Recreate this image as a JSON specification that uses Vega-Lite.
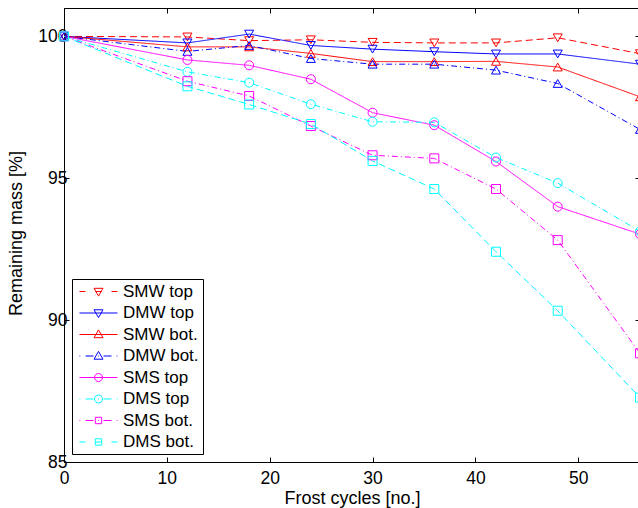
{
  "$schema": "https://vega.github.io/schema/vega-lite/v6.json",
  "autosize": {"type": "none"},
  "width": 576,
  "height": 454,
  "padding": {"left": 64, "top": 8, "right": -2, "bottom": 46},
  "background": "white",
  "config": {
    "view": {"stroke": "#000000", "strokeWidth": 1},
    "font": "Liberation Sans",
    "axis": {
      "labelFont": "Liberation Sans", "labelFontSize": 17.5, "labelColor": "#000000", "labelFlush": false,
      "titleFont": "Liberation Sans", "titleFontSize": 18, "titleColor": "#000000", "titleFontWeight": "normal",
      "domainColor": "#000000", "tickColor": "#000000", "grid": false, "tickSize": -5
    },
    "legend": {"labelFont": "Liberation Sans", "labelFontSize": 17, "labelColor": "#000000"}
  },
  "data": {"values": [
    {"series": "SMW top", "cycles": 0, "mass": 100}, {"series": "SMW top", "cycles": 12, "mass": 99.98}, {"series": "SMW top", "cycles": 18, "mass": 99.85}, {"series": "SMW top", "cycles": 24, "mass": 99.88}, {"series": "SMW top", "cycles": 30, "mass": 99.79}, {"series": "SMW top", "cycles": 36, "mass": 99.77}, {"series": "SMW top", "cycles": 42, "mass": 99.77}, {"series": "SMW top", "cycles": 48, "mass": 99.95}, {"series": "SMW top", "cycles": 56, "mass": 99.39},
    {"series": "DMW top", "cycles": 0, "mass": 100}, {"series": "DMW top", "cycles": 12, "mass": 99.77}, {"series": "DMW top", "cycles": 18, "mass": 100.08}, {"series": "DMW top", "cycles": 24, "mass": 99.68}, {"series": "DMW top", "cycles": 30, "mass": 99.55}, {"series": "DMW top", "cycles": 36, "mass": 99.46}, {"series": "DMW top", "cycles": 42, "mass": 99.38}, {"series": "DMW top", "cycles": 48, "mass": 99.38}, {"series": "DMW top", "cycles": 56, "mass": 99.02},
    {"series": "SMW bot.", "cycles": 0, "mass": 100}, {"series": "SMW bot.", "cycles": 12, "mass": 99.63}, {"series": "SMW bot.", "cycles": 18, "mass": 99.63}, {"series": "SMW bot.", "cycles": 24, "mass": 99.4}, {"series": "SMW bot.", "cycles": 30, "mass": 99.11}, {"series": "SMW bot.", "cycles": 36, "mass": 99.11}, {"series": "SMW bot.", "cycles": 42, "mass": 99.12}, {"series": "SMW bot.", "cycles": 48, "mass": 98.92}, {"series": "SMW bot.", "cycles": 56, "mass": 97.87},
    {"series": "DMW bot.", "cycles": 0, "mass": 100}, {"series": "DMW bot.", "cycles": 12, "mass": 99.47}, {"series": "DMW bot.", "cycles": 18, "mass": 99.68}, {"series": "DMW bot.", "cycles": 24, "mass": 99.22}, {"series": "DMW bot.", "cycles": 30, "mass": 99.02}, {"series": "DMW bot.", "cycles": 36, "mass": 99.02}, {"series": "DMW bot.", "cycles": 42, "mass": 98.81}, {"series": "DMW bot.", "cycles": 48, "mass": 98.34}, {"series": "DMW bot.", "cycles": 56, "mass": 96.72},
    {"series": "SMS top", "cycles": 0, "mass": 100}, {"series": "SMS top", "cycles": 12, "mass": 99.17}, {"series": "SMS top", "cycles": 18, "mass": 98.98}, {"series": "SMS top", "cycles": 24, "mass": 98.49}, {"series": "SMS top", "cycles": 30, "mass": 97.31}, {"series": "SMS top", "cycles": 36, "mass": 96.87}, {"series": "SMS top", "cycles": 42, "mass": 95.59}, {"series": "SMS top", "cycles": 48, "mass": 94.0}, {"series": "SMS top", "cycles": 56, "mass": 93.03},
    {"series": "DMS top", "cycles": 0, "mass": 100}, {"series": "DMS top", "cycles": 12, "mass": 98.75}, {"series": "DMS top", "cycles": 18, "mass": 98.37}, {"series": "DMS top", "cycles": 24, "mass": 97.61}, {"series": "DMS top", "cycles": 30, "mass": 96.99}, {"series": "DMS top", "cycles": 36, "mass": 96.97}, {"series": "DMS top", "cycles": 42, "mass": 95.73}, {"series": "DMS top", "cycles": 48, "mass": 94.83}, {"series": "DMS top", "cycles": 56, "mass": 93.13},
    {"series": "SMS bot.", "cycles": 0, "mass": 100}, {"series": "SMS bot.", "cycles": 12, "mass": 98.42}, {"series": "SMS bot.", "cycles": 18, "mass": 97.9}, {"series": "SMS bot.", "cycles": 24, "mass": 96.84}, {"series": "SMS bot.", "cycles": 30, "mass": 95.81}, {"series": "SMS bot.", "cycles": 36, "mass": 95.7}, {"series": "SMS bot.", "cycles": 42, "mass": 94.62}, {"series": "SMS bot.", "cycles": 48, "mass": 92.82}, {"series": "SMS bot.", "cycles": 56, "mass": 88.83},
    {"series": "DMS bot.", "cycles": 0, "mass": 100}, {"series": "DMS bot.", "cycles": 12, "mass": 98.24}, {"series": "DMS bot.", "cycles": 18, "mass": 97.6}, {"series": "DMS bot.", "cycles": 24, "mass": 96.91}, {"series": "DMS bot.", "cycles": 30, "mass": 95.61}, {"series": "DMS bot.", "cycles": 36, "mass": 94.62}, {"series": "DMS bot.", "cycles": 42, "mass": 92.41}, {"series": "DMS bot.", "cycles": 48, "mass": 90.33}, {"series": "DMS bot.", "cycles": 56, "mass": 87.27}
  ]},
  "layer": [
    {
      "mark": {"type": "line", "strokeWidth": 1},
      "encoding": {
        "x": {"field": "cycles", "type": "quantitative", "scale": {"domain": [0, 56], "nice": false, "zero": false},
              "axis": {"orient": "bottom", "values": [0, 10, 20, 30, 40, 50], "title": "Frost cycles [no.]", "labelPadding": 12, "titlePadding": 3, "domain": true}},
        "y": {"field": "mass", "type": "quantitative", "scale": {"domain": [85, 101], "nice": false, "zero": false},
              "axis": {"orient": "left", "values": [85, 90, 95, 100], "title": "Remaining mass [%]", "labelPadding": 2, "titleX": -48, "titleY": 225, "titleAngle": -90, "titleBaseline": "middle", "titleAlign": "center"}},
        "color": {"field": "series", "type": "nominal",
                  "scale": {"domain": ["SMW top", "DMW top", "SMW bot.", "DMW bot.", "SMS top", "DMS top", "SMS bot.", "DMS bot."],
                            "range": ["#ff0000", "#0000ff", "#ff0000", "#0000ff", "#ff00ff", "#00ffff", "#ff00ff", "#00ffff"]},
                  "legend": null},
        "strokeDash": {"field": "series", "type": "nominal",
                  "scale": {"domain": ["SMW top", "DMW top", "SMW bot.", "DMW bot.", "SMS top", "DMS top", "SMS bot.", "DMS bot."],
                            "range": [[7, 4], [1, 0], [1, 0], [6, 3, 1, 3], [1, 0], [6, 3, 1, 3], [6, 3, 1, 3], [7, 4]]},
                  "legend": null}
      }
    },
    {
      "mark": {"type": "point", "filled": false, "strokeWidth": 1, "opacity": 1},
      "encoding": {
        "x": {"field": "cycles", "type": "quantitative",
              "axis": {"orient": "top", "values": [0, 10, 20, 30, 40, 50], "labels": false, "title": null, "domain": false}},
        "y": {"field": "mass", "type": "quantitative",
              "axis": {"orient": "right", "values": [85, 90, 95, 100], "labels": false, "title": null, "domain": false}},
        "color": {"field": "series", "type": "nominal",
                  "scale": {"domain": ["SMW top", "DMW top", "SMW bot.", "DMW bot.", "SMS top", "DMS top", "SMS bot.", "DMS bot."],
                            "range": ["#ff0000", "#0000ff", "#ff0000", "#0000ff", "#ff00ff", "#00ffff", "#ff00ff", "#00ffff"]},
                  "legend": null},
        "shape": {"field": "series", "type": "nominal",
                  "scale": {"domain": ["SMW top", "DMW top", "SMW bot.", "DMW bot.", "SMS top", "DMS top", "SMS bot.", "DMS bot."],
                            "range": ["triangle-down", "triangle-down", "triangle-up", "triangle-up", "circle", "circle", "square", "square"]},
                  "legend": null},
        "size": {"field": "series", "type": "nominal",
                 "scale": {"domain": ["SMW top", "DMW top", "SMW bot.", "DMW bot.", "SMS top", "DMS top", "SMS bot.", "DMS bot."],
                           "range": [81, 81, 81, 81, 64, 64, 44, 44]},
                 "legend": null}
      }
    },
    {
      "mark": {"type": "point", "filled": false, "strokeWidth": 1, "opacity": 0, "size": 64},
      "encoding": {
        "x": {"field": "cycles", "type": "quantitative", "axis": null},
        "y": {"field": "mass", "type": "quantitative", "axis": null},
        "color": {"field": "series", "type": "nominal",
                  "scale": {"domain": ["SMW top", "DMW top", "SMW bot.", "DMW bot.", "SMS top", "DMS top", "SMS bot.", "DMS bot."],
                            "range": ["#ff0000", "#0000ff", "#ff0000", "#0000ff", "#ff00ff", "#00ffff", "#ff00ff", "#00ffff"]},
                  "legend": {"title": null, "orient": "bottom-left", "offset": 8, "padding": 4,
                             "strokeColor": "#000000", "fillColor": "#ffffff",
                             "symbolSize": 64, "symbolOffset": 14, "labelOffset": 16, "rowPadding": 3.5,
                             "symbolStrokeWidth": 1, "symbolOpacity": 1, "symbolFillColor": "transparent"}},
        "shape": {"field": "series", "type": "nominal",
                  "scale": {"domain": ["SMW top", "DMW top", "SMW bot.", "DMW bot.", "SMS top", "DMS top", "SMS bot.", "DMS bot."],
                            "range": [
                              "M-4.75,0H-3.25M-0.75,0H0.75M3.25,0H4.75M-1.125,-0.8L1.125,-0.8L0,1.15Z",
                              "M-4.75,0H4.75M-1.125,-0.8L1.125,-0.8L0,1.15Z",
                              "M-4.75,0H4.75M-1.125,0.8L1.125,0.8L0,-1.15Z",
                              "M-4.75,0H-4.55M-3.25,0H-1.25M-0.1,0H0.1M1.25,0H3.25M4.55,0H4.75M-1.125,0.8L1.125,0.8L0,-1.15Z",
                              "M-4.75,0H4.75M1,0A1,1 0 1,1 -1,0A1,1 0 1,1 1,0Z",
                              "M-4.75,0H-4.55M-3.25,0H-1.25M-0.1,0H0.1M1.25,0H3.25M4.55,0H4.75M1,0A1,1 0 1,1 -1,0A1,1 0 1,1 1,0Z",
                              "M-4.75,0H-4.55M-3.25,0H-1.25M-0.1,0H0.1M1.25,0H3.25M4.55,0H4.75M-0.8,-0.8H0.8V0.8H-0.8Z",
                              "M-4.75,0H-3.25M-0.75,0H0.75M3.25,0H4.75M-0.8,-0.8H0.8V0.8H-0.8Z"
                            ]},
                  "legend": {"title": null, "orient": "bottom-left", "offset": 8, "padding": 4,
                             "strokeColor": "#000000", "fillColor": "#ffffff",
                             "symbolSize": 64, "symbolOffset": 14, "labelOffset": 16, "rowPadding": 3.5,
                             "symbolStrokeWidth": 1, "symbolOpacity": 1, "symbolFillColor": "transparent"}}
      }
    }
  ],
  "resolve": {
    "axis": {"x": "independent", "y": "independent"},
    "scale": {"color": "independent", "shape": "independent"}
  }
}
